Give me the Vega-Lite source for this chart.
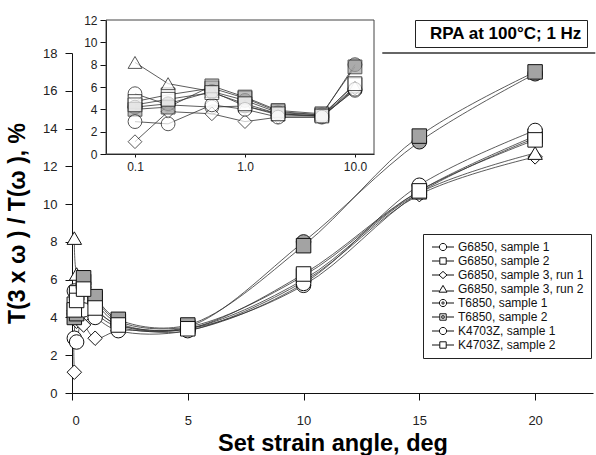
{
  "$schema": "https://vega.github.io/schema/vega-lite/v6.json",
  "width": 521,
  "height": 340,
  "autosize": "none",
  "padding": {"left": 72, "top": 53, "right": 3, "bottom": 62},
  "background": "white",
  "config": {
    "view": {"stroke": null},
    "font": "Liberation Sans",
    "axis": {"grid": false, "domainColor": "#111", "tickColor": "#111", "labelColor": "#222", "labelFont": "Liberation Sans", "titleFont": "Liberation Sans", "titleColor": "#000", "domainWidth": 1, "tickWidth": 1, "labelOverlap": false},
    "axisY": {"labelOverlap": false},
    "legend": {"labelFont": "Liberation Sans", "labelFontSize": 12, "labelColor": "#111", "labelLimit": 0}
  },
  "datasets": {
    "pts": [
      {"s": "G6850, sample 1", "x": 0.1, "y": 5.4}, {"s": "G6850, sample 1", "x": 0.2, "y": 4.4}, {"s": "G6850, sample 1", "x": 0.5, "y": 4.2}, {"s": "G6850, sample 1", "x": 1, "y": 4.3}, {"s": "G6850, sample 1", "x": 2, "y": 3.6}, {"s": "G6850, sample 1", "x": 5, "y": 3.4}, {"s": "G6850, sample 1", "x": 10, "y": 5.7}, {"s": "G6850, sample 1", "x": 15, "y": 10.6}, {"s": "G6850, sample 1", "x": 20, "y": 13.5},
      {"s": "G6850, sample 2", "x": 0.1, "y": 4.7}, {"s": "G6850, sample 2", "x": 0.2, "y": 5.3}, {"s": "G6850, sample 2", "x": 0.5, "y": 5.9}, {"s": "G6850, sample 2", "x": 1, "y": 5.0}, {"s": "G6850, sample 2", "x": 2, "y": 3.8}, {"s": "G6850, sample 2", "x": 5, "y": 3.5}, {"s": "G6850, sample 2", "x": 10, "y": 6.2}, {"s": "G6850, sample 2", "x": 15, "y": 10.7}, {"s": "G6850, sample 2", "x": 20, "y": 13.6},
      {"s": "G6850, sample 3, run 1", "x": 0.1, "y": 1.1}, {"s": "G6850, sample 3, run 1", "x": 0.2, "y": 3.8}, {"s": "G6850, sample 3, run 1", "x": 0.5, "y": 3.6}, {"s": "G6850, sample 3, run 1", "x": 1, "y": 2.9}, {"s": "G6850, sample 3, run 1", "x": 2, "y": 3.3}, {"s": "G6850, sample 3, run 1", "x": 5, "y": 3.3}, {"s": "G6850, sample 3, run 1", "x": 10, "y": 5.9}, {"s": "G6850, sample 3, run 1", "x": 15, "y": 10.5}, {"s": "G6850, sample 3, run 1", "x": 20, "y": 12.5},
      {"s": "G6850, sample 3, run 2", "x": 0.1, "y": 8.2}, {"s": "G6850, sample 3, run 2", "x": 0.2, "y": 6.3}, {"s": "G6850, sample 3, run 2", "x": 0.5, "y": 5.6}, {"s": "G6850, sample 3, run 2", "x": 1, "y": 4.3}, {"s": "G6850, sample 3, run 2", "x": 2, "y": 3.5}, {"s": "G6850, sample 3, run 2", "x": 5, "y": 3.4}, {"s": "G6850, sample 3, run 2", "x": 10, "y": 6.0}, {"s": "G6850, sample 3, run 2", "x": 15, "y": 10.6}, {"s": "G6850, sample 3, run 2", "x": 20, "y": 12.7},
      {"s": "T6850, sample 1", "x": 0.1, "y": 4.2}, {"s": "T6850, sample 1", "x": 0.2, "y": 4.5}, {"s": "T6850, sample 1", "x": 0.5, "y": 5.6}, {"s": "T6850, sample 1", "x": 1, "y": 4.8}, {"s": "T6850, sample 1", "x": 2, "y": 3.7}, {"s": "T6850, sample 1", "x": 5, "y": 3.5}, {"s": "T6850, sample 1", "x": 10, "y": 8.0}, {"s": "T6850, sample 1", "x": 15, "y": 13.3}, {"s": "T6850, sample 1", "x": 20, "y": 16.9},
      {"s": "T6850, sample 2", "x": 0.1, "y": 4.0}, {"s": "T6850, sample 2", "x": 0.2, "y": 4.2}, {"s": "T6850, sample 2", "x": 0.5, "y": 6.1}, {"s": "T6850, sample 2", "x": 1, "y": 5.1}, {"s": "T6850, sample 2", "x": 2, "y": 3.9}, {"s": "T6850, sample 2", "x": 5, "y": 3.6}, {"s": "T6850, sample 2", "x": 10, "y": 7.8}, {"s": "T6850, sample 2", "x": 15, "y": 13.6}, {"s": "T6850, sample 2", "x": 20, "y": 17.0},
      {"s": "K4703Z, sample 1", "x": 0.1, "y": 2.9}, {"s": "K4703Z, sample 1", "x": 0.2, "y": 2.7}, {"s": "K4703Z, sample 1", "x": 0.5, "y": 4.4}, {"s": "K4703Z, sample 1", "x": 1, "y": 4.0}, {"s": "K4703Z, sample 1", "x": 2, "y": 3.3}, {"s": "K4703Z, sample 1", "x": 5, "y": 3.3}, {"s": "K4703Z, sample 1", "x": 10, "y": 5.8}, {"s": "K4703Z, sample 1", "x": 15, "y": 11.0}, {"s": "K4703Z, sample 1", "x": 20, "y": 13.9},
      {"s": "K4703Z, sample 2", "x": 0.1, "y": 4.4}, {"s": "K4703Z, sample 2", "x": 0.2, "y": 4.9}, {"s": "K4703Z, sample 2", "x": 0.5, "y": 5.5}, {"s": "K4703Z, sample 2", "x": 1, "y": 4.5}, {"s": "K4703Z, sample 2", "x": 2, "y": 3.6}, {"s": "K4703Z, sample 2", "x": 5, "y": 3.4}, {"s": "K4703Z, sample 2", "x": 10, "y": 6.3}, {"s": "K4703Z, sample 2", "x": 15, "y": 10.7}, {"s": "K4703Z, sample 2", "x": 20, "y": 13.4}
    ]
  },
  "resolve": {"scale": {"x": "independent", "y": "independent", "shape": "independent", "fill": "independent"}, "axis": {"x": "independent", "y": "independent"}},
  "layer": [
    {
      "data": {"name": "pts"},
      "resolve": {"scale": {"shape": "independent", "fill": "independent"}},
      "layer": [
        {
          "mark": {"type": "line", "interpolate": "catmull-rom", "stroke": "#333", "strokeWidth": 0.8},
          "encoding": {
            "x": {"field": "x", "type": "quantitative", "scale": {"domain": [0, 22.5], "nice": false},
              "axis": {"values": [0, 5, 10, 15, 20], "tickSize": 7, "labelPadding": 14, "labelFontSize": 13, "labelOverlap": false, "title": "Set strain angle, deg", "titleFontSize": 23.5, "titleFontWeight": "bold", "titlePadding": 4}},
            "y": {"field": "y", "type": "quantitative", "scale": {"domain": [0, 18], "nice": false},
              "axis": {"values": [0, 2, 4, 6, 8, 10, 12, 14, 16, 18], "tickCount": 10, "tickSize": 7, "labelPadding": 8, "labelFontSize": 13, "labelOverlap": false, "title": "T(3 x ω ) / T(ω ), %", "titleFontSize": 23, "titleFontWeight": "bold", "titlePadding": 13}},
            "detail": {"field": "s", "type": "nominal"}
          }
        },
        {
          "mark": {"type": "point", "filled": true, "stroke": "#111", "strokeWidth": 1, "size": 210, "opacity": 1},
          "encoding": {
            "x": {"field": "x", "type": "quantitative"},
            "y": {"field": "y", "type": "quantitative"},
            "shape": {"field": "s", "type": "nominal", "legend": null,
              "scale": {"domain": ["G6850, sample 1", "G6850, sample 2", "G6850, sample 3, run 1", "G6850, sample 3, run 2", "T6850, sample 1", "T6850, sample 2", "K4703Z, sample 1", "K4703Z, sample 2"],
                "range": ["circle", "square", "diamond", "triangle-up", "circle", "square", "circle", "square"]}},
            "fill": {"field": "s", "type": "nominal", "legend": null,
              "scale": {"domain": ["G6850, sample 1", "G6850, sample 2", "G6850, sample 3, run 1", "G6850, sample 3, run 2", "T6850, sample 1", "T6850, sample 2", "K4703Z, sample 1", "K4703Z, sample 2"],
                "range": ["white", "white", "white", "white", "#a3a3a3", "#a3a3a3", "white", "white"]}}
          }
        },
        {
          "mark": {"type": "point", "filled": true, "stroke": "#111", "strokeWidth": 1, "opacity": 0},
          "encoding": {
            "shape": {"field": "s", "type": "nominal",
              "scale": {"domain": ["G6850, sample 1", "G6850, sample 2", "G6850, sample 3, run 1", "G6850, sample 3, run 2", "T6850, sample 1", "T6850, sample 2", "K4703Z, sample 1", "K4703Z, sample 2"],
                "range": [
                  "M-2.75,0H-0.9M0.9,0H2.75M-0.9,0A0.9,0.9 0 1,0 0.9,0A0.9,0.9 0 1,0 -0.9,0Z",
                  "M-2.75,0H-0.8M0.8,0H2.75M-0.8,-0.8H0.8V0.8H-0.8Z",
                  "M-2.75,0H-1M1,0H2.75M-1,0L0,-0.9L1,0L0,0.9Z",
                  "M-2.75,0.5H-0.9M0.9,0.5H2.75M-1,0.8L0,-0.9L1,0.8Z",
                  "M-2.75,0H-0.9M0.9,0H2.75M-0.9,0A0.9,0.9 0 1,0 0.9,0A0.9,0.9 0 1,0 -0.9,0ZM-0.3,0A0.3,0.3 0 1,0 0.3,0A0.3,0.3 0 1,0 -0.3,0Z",
                  "M-2.75,0H-0.8M0.8,0H2.75M-0.8,-0.8H0.8V0.8H-0.8ZM-0.3,-0.3H0.3V0.3H-0.3Z",
                  "M-2.75,0H-0.9M0.9,0H2.75M-0.9,0A0.9,0.9 0 1,0 0.9,0A0.9,0.9 0 1,0 -0.9,0Z",
                  "M-2.75,0H-0.8M0.8,0H2.75M-0.8,-0.8H0.8V0.8H-0.8Z"
                ]},
              "legend": {"orient": "none", "legendX": 351, "legendY": 181, "title": null, "strokeColor": "#222", "fillColor": "white", "padding": 7,
                "labelFontSize": 12, "labelFont": "Liberation Sans", "labelColor": "#111", "labelLimit": 0, "symbolSize": 64, "symbolStrokeWidth": 1, "symbolOffset": 7, "labelOffset": 9, "rowPadding": 2}},
            "fill": {"field": "s", "type": "nominal",
              "scale": {"domain": ["G6850, sample 1", "G6850, sample 2", "G6850, sample 3, run 1", "G6850, sample 3, run 2", "T6850, sample 1", "T6850, sample 2", "K4703Z, sample 1", "K4703Z, sample 2"],
                "range": ["white", "white", "white", "white", "white", "white", "white", "white"]},
              "legend": {"orient": "none", "legendX": 351, "legendY": 181, "title": null, "strokeColor": "#222", "fillColor": "white", "padding": 7,
                "labelFontSize": 12, "labelFont": "Liberation Sans", "labelColor": "#111", "labelLimit": 0, "symbolSize": 64, "symbolStrokeWidth": 1, "symbolOffset": 7, "labelOffset": 9, "rowPadding": 2}}
          }
        },
        {
          "data": {"values": [{"note": "RPA at 100°C; 1 Hz"}]},
          "mark": {"type": "point", "opacity": 0},
          "encoding": {
            "color": {"field": "note", "type": "nominal", "scale": {"range": ["black"]},
              "legend": {"orient": "none", "legendX": 343, "legendY": -33, "title": null, "strokeColor": "#222", "fillColor": "white", "padding": 5,
                "labelFontSize": 17, "labelFont": "Liberation Sans", "labelFontWeight": "bold", "labelColor": "#000", "labelLimit": 0, "symbolSize": 0, "symbolOpacity": 0, "symbolStrokeWidth": 0, "symbolOffset": 0, "labelOffset": -7}}
          }
        },
        {
          "data": {"values": [{}]},
          "mark": {"type": "rule", "stroke": "#333", "strokeWidth": 1.5},
          "encoding": {
            "x": {"datum": 13.4, "type": "quantitative"},
            "x2": {"datum": 22.6},
            "y": {"datum": 18, "type": "quantitative"}
          }
        }
      ]
    },
    {
      "data": {"name": "pts"},
      "transform": [{"filter": "datum.x <= 10"}],
      "layer": [
        {
          "data": {"values": [{}]},
          "mark": {"type": "rect", "fill": null, "stroke": "#444", "strokeWidth": 1},
          "encoding": {
            "x": {"datum": 0.0545, "type": "quantitative", "scale": {"type": "log", "domain": [0.0545, 14.9], "range": [34, 302], "nice": false},
              "axis": {"orient": "bottom", "offset": -239, "values": [0.1, 1, 10], "format": ".1f", "tickSize": 3, "labelPadding": 4, "labelFontSize": 12, "labelOverlap": false, "title": null}},
            "x2": {"datum": 14.9},
            "y": {"datum": 0, "type": "quantitative", "scale": {"domain": [0, 12], "range": [101, -33], "nice": false},
              "axis": {"orient": "left", "offset": -34, "values": [0, 2, 4, 6, 8, 10, 12], "tickSize": 6, "labelPadding": 3, "labelFontSize": 12, "labelOverlap": false, "title": null}},
            "y2": {"datum": 12}
          }
        },
        {
          "mark": {"type": "line", "stroke": "#333", "strokeWidth": 0.8},
          "encoding": {
            "x": {"field": "x", "type": "quantitative"},
            "y": {"field": "y", "type": "quantitative"},
            "detail": {"field": "s", "type": "nominal"}
          }
        },
        {
          "mark": {"type": "point", "filled": true, "stroke": "#111", "strokeWidth": 1, "size": 190},
          "encoding": {
            "x": {"field": "x", "type": "quantitative"},
            "y": {"field": "y", "type": "quantitative"},
            "shape": {"field": "s", "type": "nominal", "legend": null,
              "scale": {"domain": ["G6850, sample 1", "G6850, sample 2", "G6850, sample 3, run 1", "G6850, sample 3, run 2", "T6850, sample 1", "T6850, sample 2", "K4703Z, sample 1", "K4703Z, sample 2"],
                "range": ["circle", "square", "diamond", "triangle-up", "circle", "square", "circle", "square"]}},
            "fill": {"field": "s", "type": "nominal", "legend": null,
              "scale": {"domain": ["G6850, sample 1", "G6850, sample 2", "G6850, sample 3, run 1", "G6850, sample 3, run 2", "T6850, sample 1", "T6850, sample 2", "K4703Z, sample 1", "K4703Z, sample 2"],
                "range": ["white", "white", "white", "white", "#a3a3a3", "#a3a3a3", "white", "white"]}}
          }
        }
      ]
    }
  ]
}
